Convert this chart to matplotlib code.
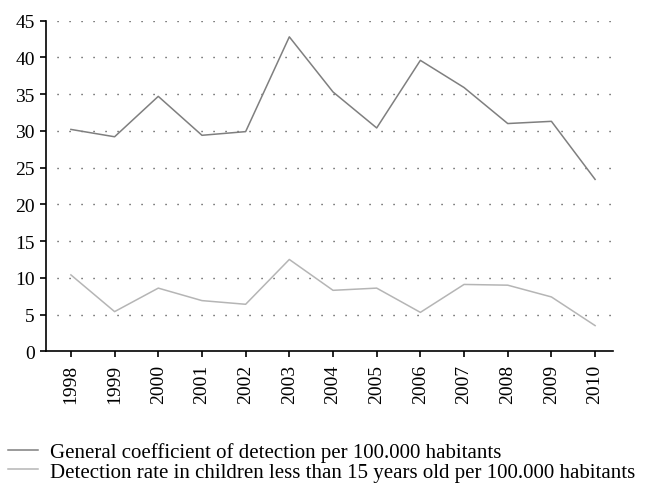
import matplotlib.pyplot as plt
import numpy as np

plt.rcParams["font.family"] = ["Liberation Serif", "DejaVu Serif"]

years = ["1998", "1999", "2000", "2001", "2002", "2003", "2004",
         "2005", "2006", "2007", "2008", "2009", "2010"]
general_rate = [30.2, 29.2, 34.7, 29.4, 29.9, 42.8, 35.3, 30.4, 39.6, 35.9, 31.0, 31.3, 23.4]
children_rate = [10.4, 5.4, 8.6, 6.9, 6.4, 12.5, 8.3, 8.6, 5.3, 9.1, 9.0, 7.4, 3.5]
y_ticks = [0, 5, 10, 15, 20, 25, 30, 35, 40, 45]

fig = plt.figure(figsize=(6.48, 4.85), dpi=100)
ax = fig.add_axes([0.071, 0.2736, 0.875, 0.6817])

x = np.arange(len(years))
ax.plot(x, general_rate, color="#7f7f7f", linewidth=1.1,
        label="General coefficient of detection per 100.000 habitants")
ax.plot(x, children_rate, color="#b5b5b5", linewidth=1.1,
        label="Detection rate in children less than 15 years old per 100.000 habitants")

ax.set_xlim(-0.57, 12.41)
ax.set_ylim(0, 45)
ax.set_yticks(y_ticks)
ax.set_xticks(x)
ax.set_xticklabels(years, rotation=90)

for tick in y_ticks[1:]:
    ax.axhline(tick, xmin=0.02, xmax=1.0, color="#333333", linewidth=1.0,
               linestyle=(0, (0.8, 7.84)), zorder=0)

for side in ("top", "right"):
    ax.spines[side].set_visible(False)
for side in ("left", "bottom"):
    ax.spines[side].set_color("black")
    ax.spines[side].set_linewidth(1.2)
ax.tick_params(axis="both", direction="out", length=4, width=1.2,
               colors="black", labelsize=14)
ax.tick_params(axis="y", pad=4)
ax.tick_params(axis="x", pad=5)

fig.legend(loc="upper left", bbox_to_anchor=(8 / 648, 0.086), frameon=False,
           fontsize=15, handlelength=1.45, handletextpad=0.55, labelspacing=0.0,
           borderaxespad=0, borderpad=0)

fig.savefig("out.png", dpi=100)
